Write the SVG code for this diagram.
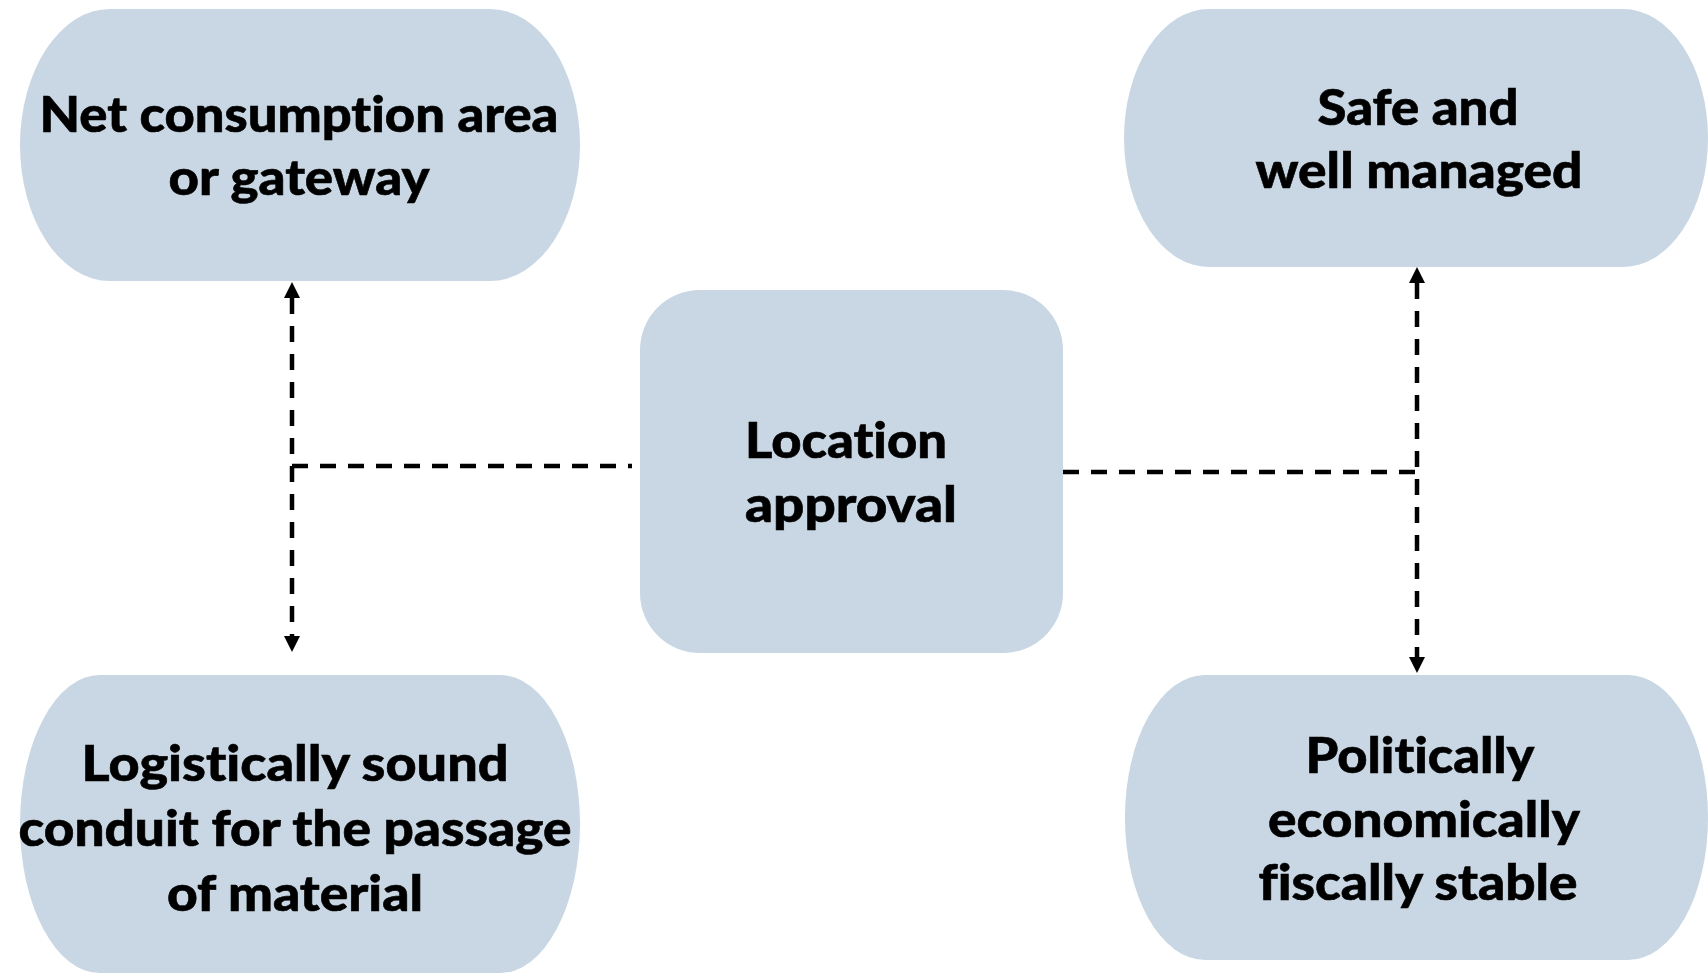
<svg xmlns="http://www.w3.org/2000/svg" width="1708" height="974" viewBox="0 0 1708 974">
  <defs>
    <style>
      .node { fill: #c8d7e3; }
      .label { font-family: Lato, "Open Sans", "Liberation Sans", sans-serif; font-weight: 900; font-size: 49px; fill: #000; stroke: #000; stroke-width: 0.6; text-anchor: middle; font-variant-ligatures: none; }
      .link { fill: none; stroke: #000; stroke-width: 4.5; stroke-dasharray: 16 12; }
    </style>
    <marker id="arrow" markerUnits="userSpaceOnUse" markerWidth="16" markerHeight="16" refX="0" refY="8" orient="auto-start-reverse" viewBox="0 0 16 16">
      <path d="M0,0 L16,8 L0,16 z" fill="#000"/>
    </marker>
  </defs>

  <rect width="1708" height="974" fill="#fff"/>

  <!-- connectors -->
  <g id="connectors">
    <line class="link" x1="292" y1="298" x2="292" y2="636" marker-start="url(#arrow)" marker-end="url(#arrow)"/>
    <line class="link" x1="292" y1="466" x2="632" y2="466"/>
    <line class="link" x1="1063" y1="472" x2="1417" y2="472"/>
    <line class="link" x1="1417" y1="283" x2="1417" y2="657" marker-start="url(#arrow)" marker-end="url(#arrow)"/>
  </g>

  <!-- top-left -->
  <g id="node-consumption">
    <rect class="node" x="20" y="9" width="560" height="272" rx="90" ry="136"/>
    <text class="label" x="299" y="132" textLength="519" lengthAdjust="spacingAndGlyphs">Net consumption area</text>
    <text class="label" x="299" y="195" textLength="261" lengthAdjust="spacingAndGlyphs">or gateway</text>
  </g>

  <!-- top-right -->
  <g id="node-safe">
    <rect class="node" x="1124" y="9" width="584" height="258" rx="85" ry="129"/>
    <text class="label" x="1418" y="125" textLength="201" lengthAdjust="spacingAndGlyphs">Safe and</text>
    <text class="label" x="1419" y="188" textLength="327" lengthAdjust="spacingAndGlyphs">well managed</text>
  </g>

  <!-- centre -->
  <g id="node-location">
    <rect class="node" x="640" y="290" width="423" height="363" rx="60" ry="60"/>
    <text class="label" x="846" y="458" textLength="202" lengthAdjust="spacingAndGlyphs">Location</text>
    <text class="label" x="851" y="522" textLength="212" lengthAdjust="spacingAndGlyphs">approval</text>
  </g>

  <!-- bottom-left -->
  <g id="node-logistics">
    <rect class="node" x="20" y="675" width="560" height="298" rx="80" ry="149"/>
    <text class="label" x="295" y="781" textLength="427" lengthAdjust="spacingAndGlyphs">Logistically sound</text>
    <text class="label" x="295" y="846" textLength="553" lengthAdjust="spacingAndGlyphs">conduit for the passage</text>
    <text class="label" x="295" y="911" textLength="256" lengthAdjust="spacingAndGlyphs">of material</text>
  </g>

  <!-- bottom-right -->
  <g id="node-stable">
    <rect class="node" x="1125" y="675" width="583" height="285" rx="80" ry="142"/>
    <text class="label" x="1420" y="773" textLength="229" lengthAdjust="spacingAndGlyphs">Politically</text>
    <text class="label" x="1424" y="837" textLength="312" lengthAdjust="spacingAndGlyphs">economically</text>
    <text class="label" x="1418" y="900" textLength="319" lengthAdjust="spacingAndGlyphs">fiscally stable</text>
  </g>
</svg>
